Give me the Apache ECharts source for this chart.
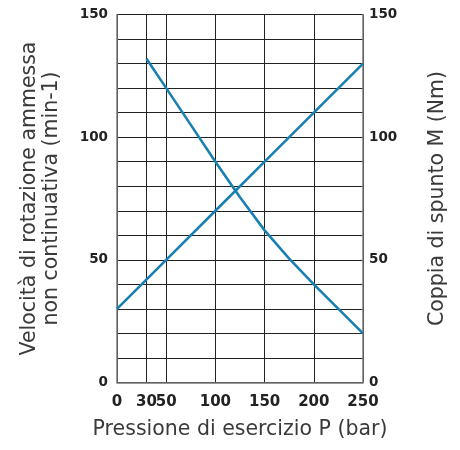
<!DOCTYPE html>
<html>
<head>
<meta charset="utf-8">
<script src="https://cdn.jsdelivr.net/npm/echarts@6/dist/echarts.min.js"></script>
<style>html,body{margin:0;padding:0;background:#fff}#c{width:460px;height:450px}</style>
</head>
<body>
<div id="c"></div>
<script>
const xTicks = [0, 30, 50, 100, 150, 200, 250];
const yTicks = [0, 50, 100, 150];
const torqueP = [0, 50, 100, 150, 200, 250];
const torque = [30, 50, 70, 90, 110, 130];
const speedP = [30, 50, 75, 100, 125, 150, 175, 200, 225, 250];
const speed = [132, 120, 105, 90, 75.5, 62, 50.5, 40, 30, 20];

const FONT = 'DejaVu Sans';
const chart = echarts.init(document.getElementById('c'));
const yAxisBase = {
  type: 'value', min: 0, max: 150, interval: 10,
  nameLocation: 'middle',
  nameTextStyle: { fontFamily: FONT, fontSize: 20.5, color: '#3a3a3a', lineHeight: 22 },
  axisLine: { show: true, lineStyle: { color: '#777', width: 1.5 } },
  axisTick: { show: false },
  axisLabel: {
    fontFamily: FONT, fontSize: 13.5, fontWeight: 'bold', color: '#222',
    formatter: v => (yTicks.indexOf(v) >= 0 ? String(v) : '')
  }
};
chart.setOption({
  animation: false,
  grid: { left: 117, right: 97, top: 14.5, bottom: 67.5 },
  xAxis: {
    type: 'value', min: 0, max: 250,
    name: 'Pressione di esercizio P (bar)',
    nameLocation: 'middle', nameGap: 37,
    nameTextStyle: { fontFamily: FONT, fontSize: 20.5, color: '#3a3a3a' },
    axisLine: { show: true, lineStyle: { color: '#777', width: 1.5 } },
    axisTick: { show: false, customValues: xTicks },
    axisLabel: { customValues: xTicks, fontFamily: FONT, fontSize: 15, fontWeight: 'bold', color: '#222', margin: 12, hideOverlap: false },
    splitLine: { show: true, lineStyle: { color: '#222', width: 1 } }
  },
  yAxis: [
    Object.assign({}, yAxisBase, {
      position: 'left',
      name: 'Velocità di rotazione ammessa\nnon continuativa (min-1)',
      nameGap: 54,
      axisLabel: Object.assign({}, yAxisBase.axisLabel, { margin: 9 }),
      splitLine: { show: true, lineStyle: { color: '#222', width: 1 } }
    }),
    Object.assign({}, yAxisBase, {
      position: 'right',
      name: 'Coppia di spunto M (Nm)',
      nameGap: 64,
      axisLabel: Object.assign({}, yAxisBase.axisLabel, { margin: 6 }),
      splitLine: { show: false }
    })
  ],
  series: [
    {
      type: 'line', yAxisIndex: 1, showSymbol: false,
      lineStyle: { color: '#1a80b2', width: 2.6 },
      data: torqueP.map((p, i) => [p, torque[i]])
    },
    {
      type: 'line', yAxisIndex: 0, showSymbol: false,
      lineStyle: { color: '#1a80b2', width: 2.6 },
      data: speedP.map((p, i) => [p, speed[i]])
    }
  ]
});
</script>
</body>
</html>
